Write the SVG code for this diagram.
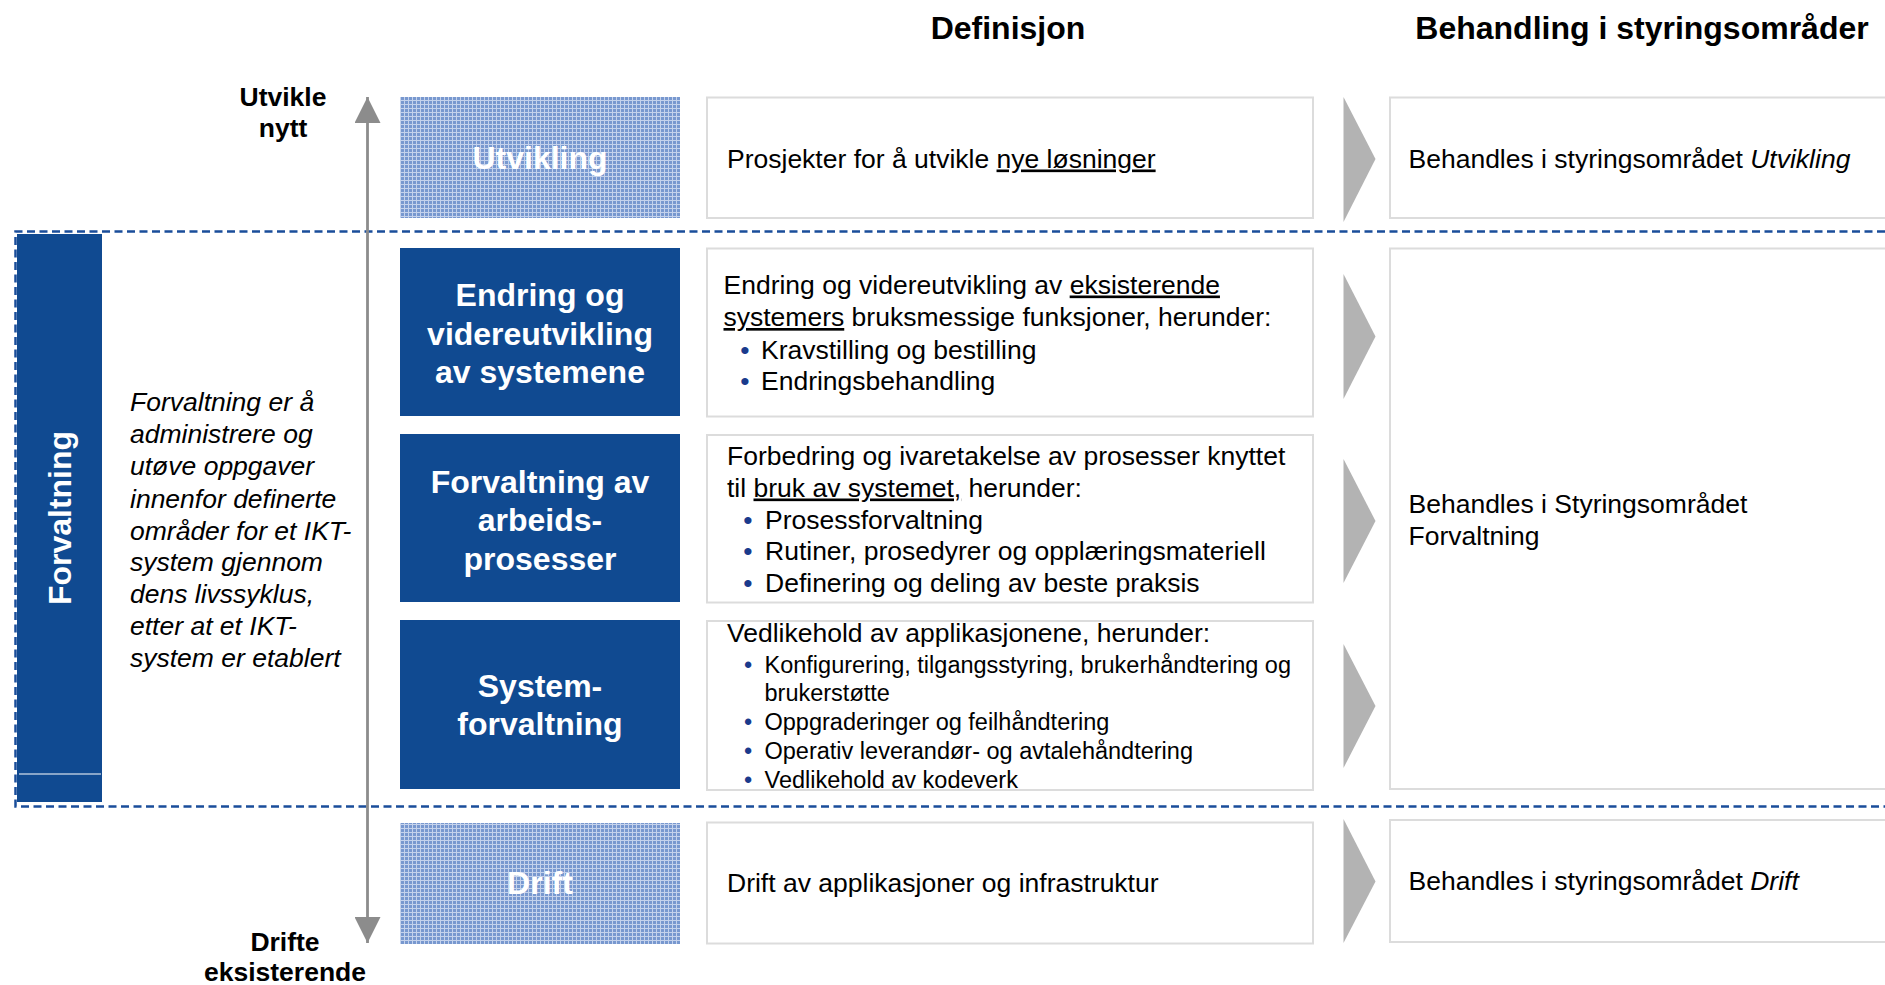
<svg xmlns="http://www.w3.org/2000/svg" width="1885" height="985" viewBox="0 0 1885 985">
<style>
text{font-family:"Liberation Sans",Arial,sans-serif;}
.hdr{font-size:32px;font-weight:bold;fill:#000;text-anchor:middle;}
.ax{font-size:26.5px;font-weight:bold;fill:#000;text-anchor:middle;}
.nl{font-size:32px;font-weight:bold;fill:#fff;text-anchor:middle;}
.body{font-size:26.5px;fill:#000;}
.small{font-size:23.5px;fill:#000;}
.bul{fill:#1a3a8c;text-anchor:middle;}
.box{fill:#fff;stroke:#dcdcdc;stroke-width:2;}
.blue{fill:#104a91;}
.chev{fill:#b3b3b3;}
.dash{stroke:#1a4d9a;stroke-width:2.5;stroke-dasharray:8 4.5;fill:none;}
.u{text-decoration:underline;}
</style>
<defs>
<pattern id="hatch" width="4" height="4" patternUnits="userSpaceOnUse">
<rect width="4" height="4" fill="#7898cf"/>
<rect x="0" y="0" width="4" height="1" fill="#c4d2ec"/>
<rect x="0" y="0" width="1" height="4" fill="#c4d2ec"/>
</pattern>
<marker id="ah" viewBox="0 0 26 26" markerUnits="userSpaceOnUse" markerWidth="26" markerHeight="26" refX="26" refY="13" orient="auto-start-reverse">
<path d="M0,0 L26,13 L0,26 z" fill="#8c8c8c"/>
</marker>
<clipPath id="clip3"><rect x="707" y="621" width="606" height="168"/></clipPath>
</defs>
<rect width="1885" height="985" fill="#fff"/>

<text class="hdr" x="1008" y="39">Definisjon</text>
<text class="hdr" x="1642" y="39">Behandling i styringsområder</text>

<g id="forvaltning-region">
<path class="dash" d="M1885,231.5 H15.5 V806.5 H1885"/>
<rect class="blue" x="17" y="234" width="85" height="568"/>
<line x1="19" y1="774" x2="101" y2="774" stroke="#fff" stroke-width="1.2"/>
<text class="nl" transform="translate(71,518) rotate(-90)">Forvaltning</text>
</g>

<g id="forvaltning-desc">
<text class="body" font-style="italic">
<tspan x="130" y="411">Forvaltning er å</tspan>
<tspan x="130" y="443">administrere og</tspan>
<tspan x="130" y="475">utøve oppgaver</tspan>
<tspan x="130" y="507.5">innenfor definerte</tspan>
<tspan x="130" y="539.5">områder for et IKT-</tspan>
<tspan x="130" y="571">system gjennom</tspan>
<tspan x="130" y="603">dens livssyklus,</tspan>
<tspan x="130" y="635">etter at et IKT-</tspan>
<tspan x="130" y="667">system er etablert</tspan>
</text>
</g>

<g id="axis-labels">
<text class="ax"><tspan x="283" y="106">Utvikle</tspan><tspan x="283" y="137">nytt</tspan></text>
<text class="ax"><tspan x="285" y="951">Drifte</tspan><tspan x="285" y="981">eksisterende</tspan></text>
</g>

<g id="node-utvikling">
<rect x="400" y="97" width="280" height="121" fill="url(#hatch)"/>
<text class="nl" x="540" y="169">Utvikling</text>
</g>
<g id="node-endring">
<rect class="blue" x="400" y="248" width="280" height="168"/>
<text class="nl"><tspan x="540" y="306">Endring og</tspan><tspan x="540" y="344.5">videreutvikling</tspan><tspan x="540" y="383">av systemene</tspan></text>
</g>
<g id="node-arbeidsprosesser">
<rect class="blue" x="400" y="434" width="280" height="168"/>
<text class="nl"><tspan x="540" y="492.5">Forvaltning av</tspan><tspan x="540" y="531">arbeids-</tspan><tspan x="540" y="569.5">prosesser</tspan></text>
</g>
<g id="node-systemforvaltning">
<rect class="blue" x="400" y="620" width="280" height="169"/>
<text class="nl"><tspan x="540" y="697">System-</tspan><tspan x="540" y="735">forvaltning</tspan></text>
</g>
<g id="node-drift">
<rect x="400" y="823" width="280" height="121" fill="url(#hatch)"/>
<text class="nl" x="540" y="894">Drift</text>
</g>

<g id="def-utvikling">
<rect class="box" x="707" y="97.5" width="606" height="120.5"/>
<text class="body" x="727" y="167.5">Prosjekter for å utvikle <tspan class="u">nye løsninger</tspan></text>
</g>
<g id="def-endring">
<rect class="box" x="707" y="248.5" width="606" height="168"/>
<text class="body" x="723.5" y="293.5">Endring og videreutvikling av <tspan class="u">eksisterende</tspan></text>
<text class="body" x="723.5" y="326"><tspan class="u">systemers</tspan> bruksmessige funksjoner, herunder:</text>
<text class="body bul" x="745" y="358.5">•</text>
<text class="body" x="761" y="358.5">Kravstilling og bestilling</text>
<text class="body bul" x="745" y="389.5">•</text>
<text class="body" x="761" y="389.5">Endringsbehandling</text>
</g>
<g id="def-arbeidsprosesser">
<rect class="box" x="707" y="435" width="606" height="167.5"/>
<text class="body" x="727" y="465">Forbedring og ivaretakelse av prosesser knyttet</text>
<text class="body" x="727" y="496.5">til <tspan class="u">bruk av systemet,</tspan> herunder:</text>
<text class="body bul" x="748" y="528.5">•</text>
<text class="body" x="765" y="528.5">Prosessforvaltning</text>
<text class="body bul" x="748" y="560">•</text>
<text class="body" x="765" y="560">Rutiner, prosedyrer og opplæringsmateriell</text>
<text class="body bul" x="748" y="591.5">•</text>
<text class="body" x="765" y="591.5">Definering og deling av beste praksis</text>
</g>
<g id="def-systemforvaltning">
<rect class="box" x="707" y="621" width="606" height="169"/>
<g clip-path="url(#clip3)">
<text class="body" x="727" y="641.5">Vedlikehold av applikasjonene, herunder:</text>
<text class="small bul" x="748" y="672.5">•</text>
<text class="small" x="764.5" y="672.5">Konfigurering, tilgangsstyring, brukerhåndtering og</text>
<text class="small" x="764.5" y="701">brukerstøtte</text>
<text class="small bul" x="748" y="730">•</text>
<text class="small" x="764.5" y="730">Oppgraderinger og feilhåndtering</text>
<text class="small bul" x="748" y="759">•</text>
<text class="small" x="764.5" y="759">Operativ leverandør- og avtalehåndtering</text>
<text class="small bul" x="748" y="787.5">•</text>
<text class="small" x="764.5" y="787.5">Vedlikehold av kodeverk</text>
</g>
</g>
<g id="def-drift">
<rect class="box" x="707" y="822.5" width="606" height="121"/>
<text class="body" x="727" y="891.5">Drift av applikasjoner og infrastruktur</text>
</g>

<g id="sa-utvikling">
<rect class="box" x="1390" y="97.5" width="520" height="120.5"/>
<text class="body" x="1408.5" y="167.5">Behandles i styringsområdet <tspan font-style="italic">Utvikling</tspan></text>
</g>
<g id="sa-forvaltning">
<rect class="box" x="1390" y="248.5" width="520" height="540.5"/>
<text class="body"><tspan x="1408.5" y="513">Behandles i Styringsområdet</tspan><tspan x="1408.5" y="545">Forvaltning</tspan></text>
</g>
<g id="sa-drift">
<rect class="box" x="1390" y="820" width="520" height="122"/>
<text class="body" x="1408.5" y="890">Behandles i styringsområdet <tspan font-style="italic">Drift</tspan></text>
</g>

<g id="connectors">
<line x1="367.5" y1="97" x2="367.5" y2="943" stroke="#8c8c8c" stroke-width="2.8" marker-start="url(#ah)" marker-end="url(#ah)"/>
<polygon class="chev" points="1343.5,97 1375.5,159 1343.5,222"/>
<polygon class="chev" points="1343.5,274 1375.5,336.5 1343.5,399"/>
<polygon class="chev" points="1343.5,459 1375.5,521 1343.5,583"/>
<polygon class="chev" points="1343.5,644 1375.5,706 1343.5,768"/>
<polygon class="chev" points="1343.5,819 1375.5,881.5 1343.5,943"/>
</g>
</svg>
